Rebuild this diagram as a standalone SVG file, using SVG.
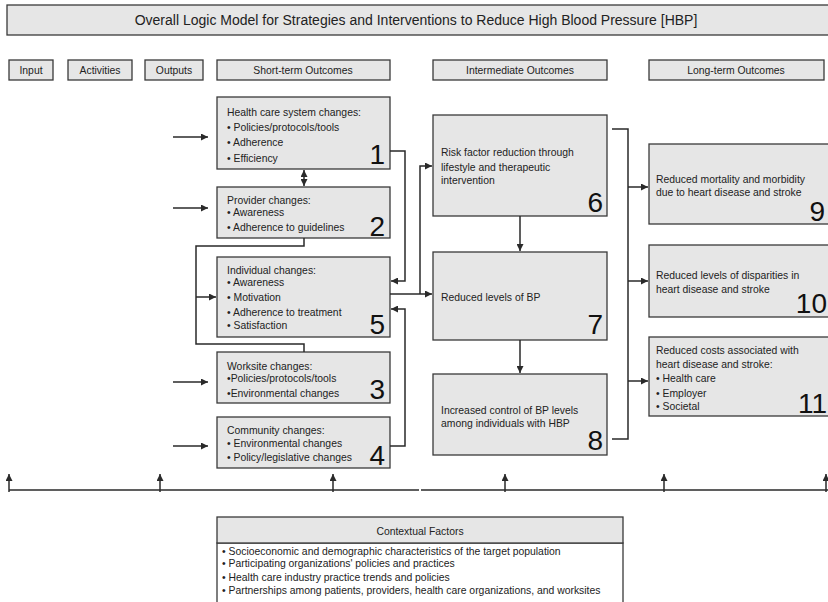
<svg xmlns="http://www.w3.org/2000/svg" width="828" height="602" viewBox="0 0 828 602">
<defs>
<marker id="ah" viewBox="0 0 10 10" refX="10" refY="5" markerWidth="7" markerHeight="7" markerUnits="userSpaceOnUse" orient="auto-start-reverse">
<path d="M0,0 L10,5 L0,10 z" fill="#2a2a2a"/>
</marker>
<style>
.box{fill:#e6e6e6;stroke:#3a3a3a;stroke-width:1.3}
.wbox{fill:#ffffff;stroke:#3a3a3a;stroke-width:1.3}
.t{font-family:"Liberation Sans",Arial,sans-serif;font-size:10.4px;fill:#222}
.h{font-family:"Liberation Sans",Arial,sans-serif;font-size:10.4px;fill:#222;text-anchor:middle}
.title{font-family:"Liberation Sans",Arial,sans-serif;font-size:14px;fill:#222;text-anchor:middle}
.n{font-family:"Liberation Sans",Arial,sans-serif;font-size:28px;fill:#111;text-anchor:end}
.c{fill:none;stroke:#2a2a2a;stroke-width:1.5}
.ca{fill:none;stroke:#2a2a2a;stroke-width:1.5;marker-end:url(#ah)}
.cb{fill:none;stroke:#2a2a2a;stroke-width:1.5;marker-end:url(#ah);marker-start:url(#ah)}
</style>
</defs>
<rect width="828" height="602" fill="#ffffff"/>

<g id="title">
<rect class="box" x="7" y="5" width="830" height="30"/>
<text class="title" x="416" y="25">Overall Logic Model for Strategies and Interventions to Reduce High Blood Pressure [HBP]</text>
</g>

<g id="headers">
<g id="h-input"><rect class="box" x="9" y="60" width="44" height="20"/><text class="h" x="31" y="74">Input</text></g>
<g id="h-activities"><rect class="box" x="68" y="60" width="64" height="20"/><text class="h" x="100" y="74">Activities</text></g>
<g id="h-outputs"><rect class="box" x="145" y="60" width="58" height="20"/><text class="h" x="174" y="74">Outputs</text></g>
<g id="h-short"><rect class="box" x="217" y="60" width="173" height="20"/><text class="h" x="303" y="74">Short-term Outcomes</text></g>
<g id="h-inter"><rect class="box" x="433" y="60" width="174" height="20"/><text class="h" x="520" y="74">Intermediate Outcomes</text></g>
<g id="h-long"><rect class="box" x="649" y="60" width="175" height="20"/><text class="h" x="736" y="74">Long-term Outcomes</text></g>
</g>

<g id="n1">
<rect class="box" x="217" y="97" width="173" height="72"/>
<text class="t" x="227" y="116">Health care system changes:</text>
<text class="t" x="227" y="131">• Policies/protocols/tools</text>
<text class="t" x="227" y="146">• Adherence</text>
<text class="t" x="227" y="162">• Efficiency</text>
<text class="n" x="385" y="164">1</text>
</g>

<g id="n2">
<rect class="box" x="217" y="187" width="173" height="51"/>
<text class="t" x="227" y="204">Provider changes:</text>
<text class="t" x="227" y="216">• Awareness</text>
<text class="t" x="227" y="231">• Adherence to guidelines</text>
<text class="n" x="385" y="236">2</text>
</g>

<g id="n5">
<rect class="box" x="217" y="257" width="173" height="80"/>
<text class="t" x="227" y="274">Individual changes:</text>
<text class="t" x="227" y="286">• Awareness</text>
<text class="t" x="227" y="301">• Motivation</text>
<text class="t" x="227" y="316">• Adherence to treatment</text>
<text class="t" x="227" y="329">• Satisfaction</text>
<text class="n" x="385" y="334">5</text>
</g>

<g id="n3">
<rect class="box" x="217" y="352" width="173" height="51"/>
<text class="t" x="227" y="370">Worksite changes:</text>
<text class="t" x="227" y="382">•Policies/protocols/tools</text>
<text class="t" x="227" y="397">•Environmental changes</text>
<text class="n" x="385" y="399">3</text>
</g>

<g id="n4">
<rect class="box" x="217" y="417" width="173" height="51"/>
<text class="t" x="227" y="434">Community changes:</text>
<text class="t" x="227" y="447">• Environmental changes</text>
<text class="t" x="227" y="461">• Policy/legislative changes</text>
<text class="n" x="385" y="465">4</text>
</g>

<g id="n6">
<rect class="box" x="433" y="115" width="174" height="101"/>
<text class="t" x="441" y="156">Risk factor reduction through</text>
<text class="t" x="441" y="171">lifestyle and therapeutic</text>
<text class="t" x="441" y="184">intervention</text>
<text class="n" x="603" y="212">6</text>
</g>

<g id="n7">
<rect class="box" x="433" y="252" width="174" height="88"/>
<text class="t" x="441" y="301">Reduced levels of BP</text>
<text class="n" x="603" y="334">7</text>
</g>

<g id="n8">
<rect class="box" x="433" y="374" width="174" height="81"/>
<text class="t" x="441" y="414">Increased control of BP levels</text>
<text class="t" x="441" y="427">among individuals with HBP</text>
<text class="n" x="603" y="450">8</text>
</g>

<g id="n9">
<rect class="box" x="649" y="144" width="190" height="80"/>
<text class="t" x="656" y="183">Reduced mortality and morbidity</text>
<text class="t" x="656" y="196">due to heart disease and stroke</text>
<text class="n" x="825" y="221">9</text>
</g>

<g id="n10">
<rect class="box" x="649" y="245" width="190" height="72"/>
<text class="t" x="656" y="279">Reduced levels of disparities in</text>
<text class="t" x="656" y="293">heart disease and stroke</text>
<text class="n" x="827" y="313">10</text>
</g>

<g id="n11">
<rect class="box" x="649" y="337" width="190" height="79"/>
<text class="t" x="656" y="354">Reduced costs associated with</text>
<text class="t" x="656" y="368">heart disease and stroke:</text>
<text class="t" x="656" y="382">• Health care</text>
<text class="t" x="656" y="397">• Employer</text>
<text class="t" x="656" y="410">• Societal</text>
<text class="n" x="827" y="413">11</text>
</g>

<g id="context">
<rect class="wbox" x="217" y="543" width="406" height="70"/>
<rect class="box" x="217" y="517" width="406" height="26"/>
<text class="h" x="420" y="535">Contextual Factors</text>
<text class="t" x="222" y="555">• Socioeconomic and demographic characteristics of the target population</text>
<text class="t" x="222" y="567">• Participating organizations' policies and practices</text>
<text class="t" x="222" y="581">• Health care industry practice trends and policies</text>
<text class="t" x="222" y="594">• Partnerships among patients, providers, health care organizations, and worksites</text>
</g>

<g id="connectors">
<!-- input arrows -->
<line class="ca" x1="173" y1="137" x2="208" y2="137"/>
<line class="ca" x1="173" y1="208" x2="208" y2="208"/>
<line class="ca" x1="173" y1="382" x2="208" y2="382"/>
<line class="ca" x1="173" y1="446" x2="208" y2="446"/>
<!-- 1 <-> 2 -->
<line class="cb" x1="304" y1="170" x2="304" y2="186"/>
<!-- 2 and 3 bracket into 5 -->
<path class="c" d="M304,238 V246 H196 V344 H304 V352"/>
<line class="ca" x1="196" y1="297" x2="216" y2="297"/>
<!-- 1 -> 5 -->
<path class="ca" d="M390,151 H405 V281 H391"/>
<!-- 4 -> 5 -->
<path class="ca" d="M390,446 H405 V309 H391"/>
<!-- 5 -> 7 and 6 -->
<line class="ca" x1="390" y1="294" x2="432" y2="294"/>
<path class="ca" d="M420,294 V166 H432"/>
<!-- 6 -> 7 -> 8 -->
<line class="ca" x1="520" y1="216" x2="520" y2="251"/>
<line class="ca" x1="520" y1="340" x2="520" y2="373"/>
<!-- bracket to long-term -->
<path class="c" d="M612,129 H628 V439 H612"/>
<line class="ca" x1="628" y1="187" x2="648" y2="187"/>
<line class="ca" x1="628" y1="281" x2="648" y2="281"/>
<line class="ca" x1="628" y1="381" x2="648" y2="381"/>
<!-- bottom feedback line -->
<line class="c" x1="9" y1="490" x2="419" y2="490"/>
<line class="c" x1="421" y1="490" x2="830" y2="490"/>
<line class="ca" x1="9" y1="492" x2="9" y2="474"/>
<line class="ca" x1="160" y1="492" x2="160" y2="474"/>
<line class="ca" x1="333" y1="492" x2="333" y2="474"/>
<line class="ca" x1="505" y1="492" x2="505" y2="474"/>
<line class="ca" x1="664" y1="492" x2="664" y2="474"/>
<line class="ca" x1="826" y1="492" x2="826" y2="474"/>
</g>
</svg>
